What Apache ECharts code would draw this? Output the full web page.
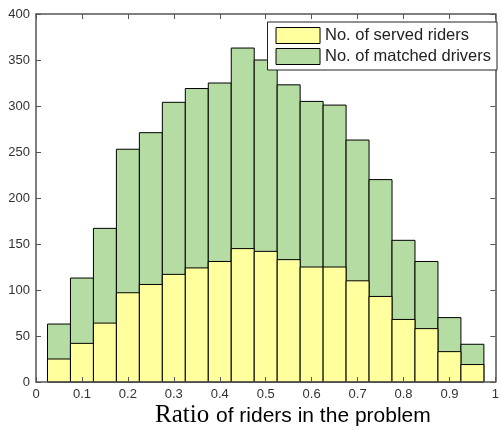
<!DOCTYPE html>
<html>
<head>
<meta charset="utf-8">
<script src="https://cdn.jsdelivr.net/npm/echarts@6/dist/echarts.min.js"></script>
<style>
  html, body { margin: 0; padding: 0; background: #fff; }
  #chart { width: 502px; height: 430px; }
</style>
</head>
<body>
<div id="chart"></div>
<script>
  // bin centres (ratio), bin width 0.05
  var binCenters = [0.05, 0.1, 0.15, 0.2, 0.25, 0.3, 0.35, 0.4, 0.45, 0.5,
                    0.55, 0.6, 0.65, 0.7, 0.75, 0.8, 0.85, 0.9, 0.95];
  var servedRiders = [25, 42, 64, 97, 106, 117, 124, 131, 145, 142,
                      133, 125, 125, 110, 93, 68, 58, 33, 19];
  var matchedDrivers = [63, 113, 167, 253, 271, 304, 319, 325, 363, 350,
                        323, 305, 301, 263, 220, 154, 131, 70, 41];
  var binWidth = 0.05;

  var myChart = echarts.init(document.getElementById('chart'));

  function toData(vals) {
    var out = [];
    for (var i = 0; i < vals.length; i++) {
      out.push([binCenters[i], vals[i]]);
    }
    return out;
  }

  function renderBar(params, api) {
    var x = api.value(0), v = api.value(1);
    var p1 = api.coord([x - binWidth / 2, v]);
    var p2 = api.coord([x + binWidth / 2, 0]);
    return {
      type: 'rect',
      shape: { x: p1[0], y: p1[1], width: p2[0] - p1[0], height: p2[1] - p1[1] },
      style: api.style({ stroke: '#000', lineWidth: 1 })
    };
  }

  var axisCol = '#555';
  var labelStyle = { color: '#333', fontSize: 13, fontFamily: 'Liberation Sans, Arial' };

  // frame axes: ticks inside, not moved to zero
  function frameAxis(extra, showLabel) {
    return Object.assign({
      type: 'value',
      axisLine: { show: true, onZero: false, lineStyle: { color: axisCol, width: 1.5 } },
      axisTick: { show: true, inside: true, length: 5, lineStyle: { color: axisCol } },
      axisLabel: showLabel ? Object.assign({ margin: 6 }, labelStyle) : { show: false },
      splitLine: { show: false },
      z: 3
    }, extra);
  }

  myChart.setOption({
    animation: false,
    grid: { left: 36, right: 4, top: 14, bottom: 48, show: false },
    legend: {
      right: 5, top: 22,
      orient: 'vertical',
      itemWidth: 44, itemHeight: 16, itemGap: 4,
      padding: [5, 6, 5, 8],
      backgroundColor: '#fff',
      borderColor: '#222', borderWidth: 1, borderRadius: 0,
      selectedMode: false,
      z: 5,
      textStyle: { color: '#222', fontSize: 16.5, fontFamily: 'Liberation Sans, Arial' },
      data: [
        { name: 'No. of served riders', icon: 'rect', itemStyle: { color: '#ffff9e', borderColor: '#000', borderWidth: 1 } },
        { name: 'No. of matched drivers', icon: 'rect', itemStyle: { color: '#b5dca2', borderColor: '#000', borderWidth: 1 } }
      ]
    },
    xAxis: [
      frameAxis({ min: 0, max: 1, interval: 0.1, position: 'bottom' }, true),
      frameAxis({ min: 0, max: 1, interval: 0.1, position: 'top' }, false)
    ],
    yAxis: [
      frameAxis({ min: 0, max: 400, interval: 50, position: 'left' }, true),
      frameAxis({ min: 0, max: 400, interval: 50, position: 'right' }, false)
    ],
    graphic: [
      {
        type: 'text', left: 155, top: 403,
        style: {
          text: 'Ratio',
          fill: '#000', fontSize: 25,
          fontFamily: 'Liberation Serif, Times New Roman, serif'
        }
      },
      {
        type: 'text', left: 216, top: 406,
        style: {
          text: 'of riders in the problem',
          fill: '#000', fontSize: 21,
          fontFamily: 'Liberation Sans, Arial, sans-serif'
        }
      }
    ],
    series: [
      {
        name: 'No. of matched drivers',
        type: 'custom',
        renderItem: renderBar,
        itemStyle: { color: '#b5dca2' },
        encode: { x: 0, y: 1 },
        data: toData(matchedDrivers),
        z: 1
      },
      {
        name: 'No. of served riders',
        type: 'custom',
        renderItem: renderBar,
        itemStyle: { color: '#ffff9e' },
        encode: { x: 0, y: 1 },
        data: toData(servedRiders),
        z: 2
      }
    ]
  });

  window.addEventListener('resize', function () {
    myChart.resize();
  });
</script>
</body>
</html>
